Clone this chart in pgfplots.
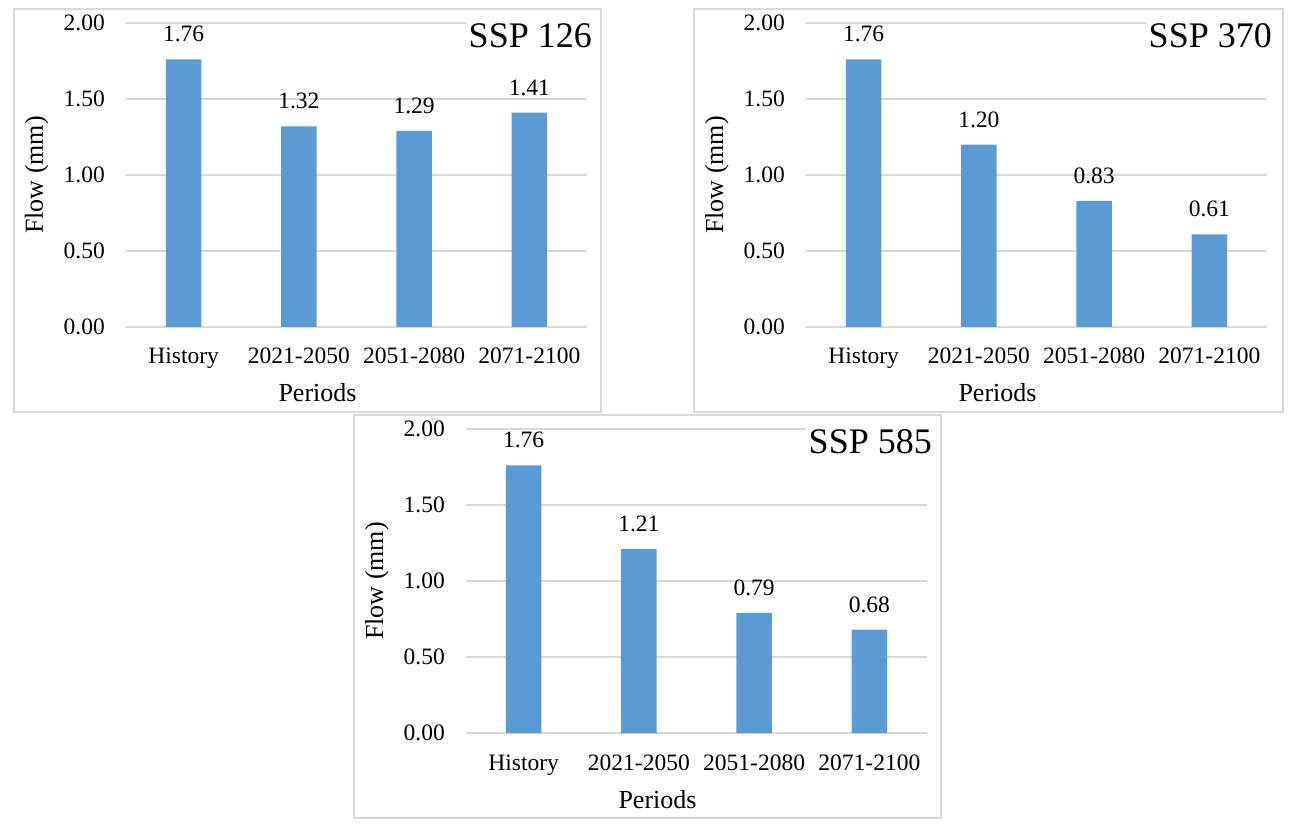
\documentclass[border=0pt]{standalone}
\usepackage{pgfplots}
\usepackage{pgfplotstable}
\pgfplotsset{compat=1.18}
\usepackage{fontspec}
\setmainfont{Liberation Serif}

\definecolor{barblue}{HTML}{5B9BD5}
\definecolor{gridgray}{HTML}{D9D9D9}

\newcommand\ticksize{\fontsize{23.5bp}{28bp}\selectfont}
\newcommand\labsize{\fontsize{26bp}{30bp}\selectfont}
\newcommand\titlesize{\fontsize{36bp}{40bp}\selectfont}

% Mean flow per period for each scenario
\pgfplotstableread{
x y
0 1.76
1 1.32
2 1.29
3 1.41
}\sspA
\pgfplotstableread{
x y
0 1.76
1 1.20
2 0.83
3 0.61
}\sspB
\pgfplotstableread{
x y
0 1.76
1 1.21
2 0.79
3 0.68
}\sspC

\pgfplotsset{
  flowpanel/.style={
    width=461bp, height=304bp, scale only axis,
    anchor=south west,
    xmin=-0.5, xmax=3.5, ymin=0, ymax=2,
    enlargelimits=false, clip=false,
    xtick={0,1,2,3},
    xticklabels={History,2021-2050,2051-2080,2071-2100},
    ytick={0,0.5,1,1.5,2},
    yticklabels={0.00,0.50,1.00,1.50,2.00},
    tick style={draw=none},
    major tick length=0pt,
    axis line style={draw=none},
    ymajorgrids,
    grid style={gridgray, line width=1.3bp},
    yticklabel style={font=\ticksize, anchor=east, inner sep=0pt, xshift=-21bp},
    xticklabel style={font=\ticksize, anchor=base, inner sep=0pt, yshift=-37bp},
    ybar, bar width=35.5bp, bar shift=0pt,
    nodes near coords={\pgfmathprintnumber[fixed,fixed zerofill,precision=2,assume math mode=true]{\pgfplotspointmeta}},
    every node near coord/.append style={font=\ticksize, anchor=base, inner sep=0pt, yshift=17.5bp, text=black},
  },
  panelbar/.style={fill=barblue, draw=none},
}

\newcommand\panellabels[1]{%
  \node[rotate=90, anchor=base, inner sep=0pt, font=\labsize]
    at ([xshift=-83bp]rel axis cs:0,0.5) {Flow (mm)};
  \node[anchor=base, inner sep=0pt, font=\labsize]
    at ([xshift=-39bp, yshift=-75bp]rel axis cs:0.5,0) {Periods};
  \node[anchor=base east, fill=white, inner xsep=3bp, inner ysep=4bp, font=\titlesize]
    at ([xshift=8bp, yshift=-25bp]rel axis cs:1,1) {#1};
}

\begin{document}
\begin{tikzpicture}
\path[use as bounding box] (0,0) rectangle (1298bp,831bp);

% chart frames
\draw[gridgray, line width=1.3bp] (14bp,822bp) rectangle (601bp,419bp);
\draw[gridgray, line width=1.3bp] (694bp,822bp) rectangle (1283bp,419bp);
\draw[gridgray, line width=1.3bp] (354bp,416bp) rectangle (941bp,13bp);

\begin{axis}[flowpanel, at={(126bp,504bp)}]
  \addplot[panelbar] table[x=x, y=y] {\sspA};
  \panellabels{SSP 126}
\end{axis}

\begin{axis}[flowpanel, at={(806bp,504bp)}]
  \addplot[panelbar] table[x=x, y=y] {\sspB};
  \panellabels{SSP 370}
\end{axis}

\begin{axis}[flowpanel, at={(466bp,98bp)}]
  \addplot[panelbar] table[x=x, y=y] {\sspC};
  \panellabels{SSP 585}
\end{axis}
\end{tikzpicture}
\end{document}
